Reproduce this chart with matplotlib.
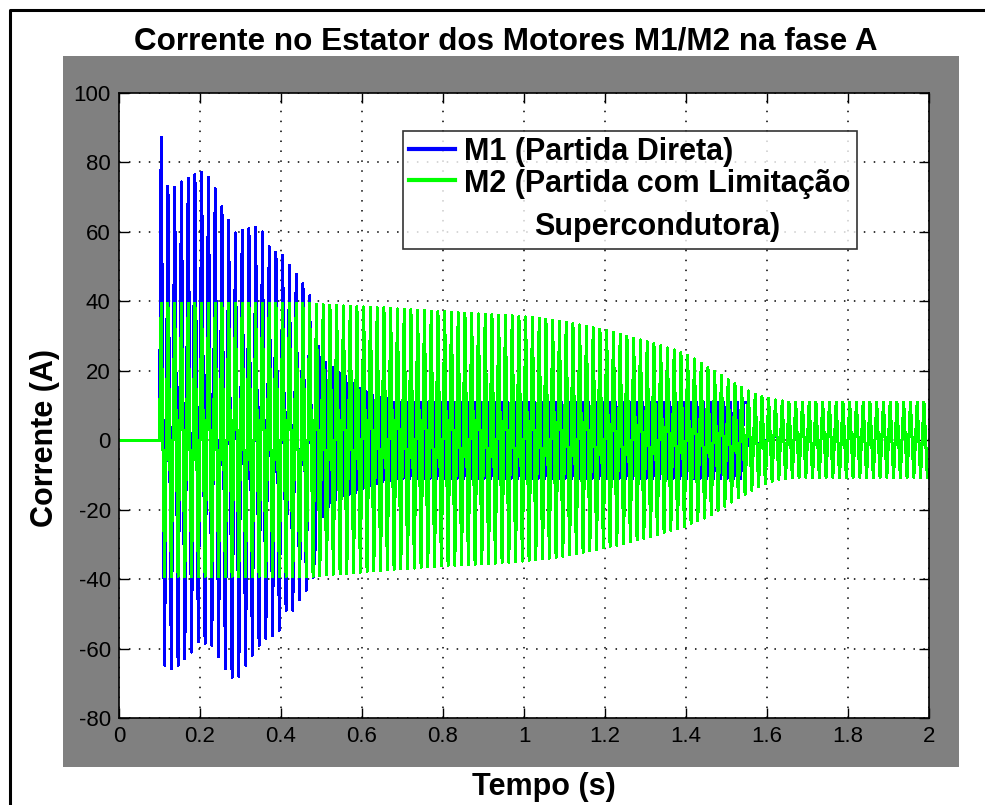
import numpy as np
import matplotlib.pyplot as plt
from matplotlib.patches import Rectangle
from matplotlib.lines import Line2D

plt.rcParams['font.family'] = ['Liberation Sans', 'DejaVu Sans']
plt.rcParams['axes.unicode_minus'] = False

# supply frequency and switch-on instant
freq = 60.0
t_on = 0.1
t_end = 2.0

# M1 - direct start: peak of each half cycle (A)
m1_peaks = ([87.3, -64.8, 73.2, -65.8, 72.8, -64.8, 74.4, -62.9, 75.4, -61.0, 76.6, -58.1,
             77.1, -58.6, 75.8, -59.0, 72.5, -62.4, 67.4, -65.8, 63.4, -68.2, 59.7, -68.0,
             60.5, -64.8, 61.0, -61.9, 61.3, -59.0, 60.0, -57.1, 55.7, -56.2, 54.2, -54.7,
             53.3, -49.0, 50.4, -49.0, 47.8, -46.0, 45.1, -43.2, 41.6, -39.5,
             -30.0,
             27.0, -22.0, 22.5, -19.0, 21.0, -17.0, 19.5, -16.0, 18.5, -15.5, 16.5,
             -15.0, 15.0, -14.0, 14.0, -13.0, 13.0, -12.5, 12.4, -12.0, 12.0, -11.5]
            + [11.0, -11.0] * 52 + [11.0]
            + [10.8]
            + [-10.5, 10.8] * 26 + [-10.5])
# phase shift of M1 against the supply (s), from the given half cycle on
m1_shift_from = [0, 46, 175]
m1_shift = [0.0, -0.0025, 0.0]

# M2 - start with superconducting fault current limiter: peaks of each cycle (A)
m2_pos = [39.5] * 23 + [
    39.2, 39.0, 38.9, 38.8, 38.7, 38.6, 38.5, 38.4, 38.3, 38.2,
    38.1, 38.0, 37.8, 37.7, 37.6, 37.5, 37.3, 37.2, 37.1, 37.0,
    36.8, 36.7, 36.6, 36.5, 36.4, 36.3, 36.2, 36.0, 35.9, 35.8,
    35.6, 35.5, 35.3, 35.1, 34.9, 34.6, 34.3, 34.0, 33.6, 33.2,
    32.8, 32.4, 32.0, 31.5, 31.0, 30.5, 30.0, 29.4, 28.9, 28.4,
    27.8, 27.2, 26.6, 26.0, 25.2, 24.4, 23.4, 22.2, 21.0, 19.8,
    18.6, 17.4, 16.3, 15.2, 14.2, 13.3, 12.6, 12.0, 11.6, 11.3] + [11.0] * 21
m2_neg = [-39.3] * 23 + [
    -39.0, -38.8, -38.6, -38.5, -38.4, -38.2, -38.0, -37.8, -37.6, -37.5,
    -37.3, -37.2, -37.0, -36.9, -36.8, -36.6, -36.5, -36.4, -36.2, -36.1,
    -36.0, -35.9, -35.8, -35.7, -35.6, -35.5, -35.4, -35.3, -35.2, -35.0,
    -34.8, -34.6, -34.4, -34.2, -34.0, -33.7, -33.4, -33.0, -32.6, -32.2,
    -31.8, -31.4, -31.0, -30.6, -30.2, -29.7, -29.2, -28.7, -28.2, -27.7,
    -27.2, -26.6, -26.0, -25.4, -24.8, -24.0, -23.2, -22.4, -21.4, -20.2,
    -19.0, -17.8, -16.6, -15.5, -14.4, -13.4, -12.5, -11.8, -11.3, -11.0] + [-10.7] * 21

xticks = [0, 0.2, 0.4, 0.6, 0.8, 1, 1.2, 1.4, 1.6, 1.8, 2]
xticklabels = ['0', '0.2', '0.4', '0.6', '0.8', '1', '1.2', '1.4', '1.6', '1.8', '2']
yticks = [-80, -60, -40, -20, 0, 20, 40, 60, 80, 100]


def wave(peaks, shift_from=(0,), shift=(0.0,)):
    # current is zero until switch-on, then one peak every half cycle
    j = np.arange(len(peaks))
    t = t_on + (j + 0.5) / (2 * freq)
    for start, dt in zip(shift_from, shift):
        t[start:] = t_on + (j[start:] + 0.5) / (2 * freq) + dt
    t = np.concatenate([[0.0, t_on], t])
    v = np.concatenate([[0.0, 0.0], peaks])
    keep = t <= t_end
    return t[keep], v[keep]


W, H = 985, 805
fig = plt.figure(figsize=(W / 100, H / 100), dpi=100)

# grey figure area and the frame around it
fig.add_artist(Rectangle((63 / W, 1 - 767 / H), 896 / W, 711 / H, transform=fig.transFigure,
                         facecolor='#808080', edgecolor='none', zorder=-5))
fig.add_artist(Line2D([10 / W, 10 / W, 1.0], [0.0, 1 - 10 / H, 1 - 10 / H],
                      transform=fig.transFigure, color='k', lw=2.2))

ax = fig.add_axes([119 / W, 1 - 718 / H, 810 / W, 625 / H])
ax.set_facecolor('white')

t1, i1 = wave(m1_peaks, m1_shift_from, m1_shift)
t2, i2 = wave(np.column_stack([m2_pos, m2_neg]).ravel())
ax.plot(t1, i1, color='#0000ff', lw=1.45, antialiased=False, label='M1 (Partida Direta)')
ax.plot(t2, i2, color='#00ff00', lw=1.45, antialiased=False,
        label='M2 (Partida com Limitação\nSupercondutora)')

ax.set_xlim(0, 2)
ax.set_ylim(-80, 100)
ax.set_xticks(xticks)
ax.set_xticklabels(xticklabels)
ax.set_yticks(yticks)
ax.set_axisbelow(True)
ax.grid(True, color='k', linestyle=(0, (1, 5.5)), linewidth=1.1)
ax.tick_params(direction='in', length=7, width=1, top=True, right=True,
               labelsize=16, pad=6)
for s in ax.spines.values():
    s.set_linewidth(1.2)

leg = ax.legend(loc='upper left', bbox_to_anchor=(403 / W, 1 - 131 / H),
                bbox_transform=fig.transFigure, fontsize=22, frameon=True, fancybox=False,
                borderaxespad=0, borderpad=0.2, handlelength=1.5, handletextpad=0.3,
                labelspacing=0.05)
leg.get_frame().set_edgecolor('k')
leg.get_frame().set_linewidth(1.2)
for txt in leg.get_texts():
    txt.set_fontweight('bold')
    txt.set_multialignment('center')
    txt.set_linespacing(1.6)
for ln in leg.get_lines():
    ln.set_linewidth(3)
    ln.set_antialiased(True)
# keep the M2 swatch on the first line of its label
m2_line = leg.get_lines()[1]
m2_line.set_ydata(np.asarray(m2_line.get_ydata()) + 19)

fig.text(506 / W, 1 - 41 / H, 'Corrente no Estator dos Motores M1/M2 na fase A',
         ha='center', va='center', fontsize=22.6, fontweight='bold')
fig.text(544 / W, 1 - 787 / H, 'Tempo (s)', ha='center', va='center',
         fontsize=22, fontweight='bold')
fig.text(45 / W, 1 - 438 / H, 'Corrente (A)', ha='center', va='center',
         rotation=90, fontsize=22, fontweight='bold')

fig.savefig('out.png', dpi=100)
